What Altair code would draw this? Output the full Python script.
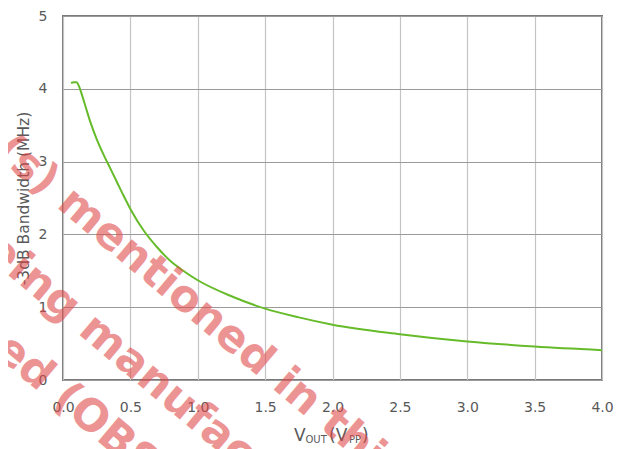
import altair as alt
import pandas as pd

# Curve
vout = [0.06, 0.08, 0.10, 0.12, 0.14, 0.17, 0.20, 0.25, 0.30, 0.35, 0.40, 0.45, 0.50,
        0.60, 0.70, 0.80, 0.90, 1.00, 1.25, 1.50, 1.75, 2.00, 2.50, 3.00, 3.50, 4.00]
bandwidth = [4.08, 4.09, 4.09, 4.03, 3.92, 3.74, 3.56, 3.31, 3.10, 2.91, 2.72, 2.53, 2.35,
             2.05, 1.82, 1.63, 1.49, 1.37, 1.15, 0.98, 0.86, 0.76, 0.63, 0.53, 0.46, 0.41]

x_ticks = [0.0, 0.5, 1.0, 1.5, 2.0, 2.5, 3.0, 3.5, 4.0]
y_ticks = [0, 1, 2, 3, 4, 5]

y_title = "-3dB Bandwidth (MHz)"
x_title_parts = ["V", "OUT", "(V", "PP", ")"]
watermark_before = ["The product(s)", "is no longer being", "or supported"]
watermark_after = ["mentioned in this document", "manufactured", "(OBSOLETE)"]

W, H = 539, 364
LABEL = "#595959"
FONT = "DejaVu Sans"

df = pd.DataFrame({"vout": vout, "bw": bandwidth})

line = alt.Chart(df).mark_line(color="#66BB2A", strokeWidth=2, interpolate="monotone").encode(
    x=alt.X("vout:Q",
            scale=alt.Scale(domain=[0, 4], nice=False),
            axis=alt.Axis(values=x_ticks, format=".1f", title=None, grid=True,
                          gridColor="#c4c4c4", gridWidth=1.2, domain=False, ticks=False,
                          labelPadding=20, labelFontSize=14, labelColor=LABEL,
                          labelFont=FONT, labelFlush=False, labelOverlap=False)),
    y=alt.Y("bw:Q",
            scale=alt.Scale(domain=[0, 5], nice=False),
            axis=alt.Axis(values=y_ticks, format="d", title=y_title, grid=True,
                          gridColor="#9a9a9a", gridWidth=1.2, domain=False, ticks=False,
                          labelPadding=16, labelFontSize=14, labelColor=LABEL,
                          labelFont=FONT, titleFont=FONT, titleFontSize=15.5,
                          titleFontWeight="normal", titleColor=LABEL, titlePadding=7)),
)

one = pd.DataFrame({"k": [0]})

def txt(s, x, y, size, **kw):
    return alt.Chart(one).mark_text(text=s, font=FONT, fontSize=size, color=LABEL,
                                    align="left", baseline="alphabetic", **kw).encode(
        x=alt.value(x), y=alt.value(y))

# x-axis title with subscripts (positions relative to the plot's top-left corner)
xt = [
    txt(x_title_parts[0], 231, 425, 17),
    txt(x_title_parts[1], 242.5, 427, 10),
    txt(x_title_parts[2], 266, 425, 17),
    txt(x_title_parts[3], 286, 427, 10),
    txt(x_title_parts[4], 299, 425, 17),
]

# diagonal watermark
anchors = [(-7.5, 190.6), (14, 317), (-12, 386)]
wm = []
for (ax, ay), before, after in zip(anchors, watermark_before, watermark_after):
    common = dict(font=FONT, fontSize=44, fontWeight="bold", color="#e04848",
                  opacity=0.58, angle=40, baseline="alphabetic")
    wm.append(alt.Chart(one).mark_text(text=before, align="right", dx=-15, **common)
              .encode(x=alt.value(ax), y=alt.value(ay)))
    wm.append(alt.Chart(one).mark_text(text=after, align="left", **common)
              .encode(x=alt.value(ax), y=alt.value(ay)))

chart = alt.layer(line, *xt, *wm).properties(
    width=W, height=H,
    autosize=alt.AutoSizeParams(type="none"),
    padding={"left": 55, "top": 8, "right": 18, "bottom": 69},
).configure_view(stroke="#7a7a7a", strokeWidth=2)

chart.save("out.html", embed_options={"renderer": "svg", "actions": False})
